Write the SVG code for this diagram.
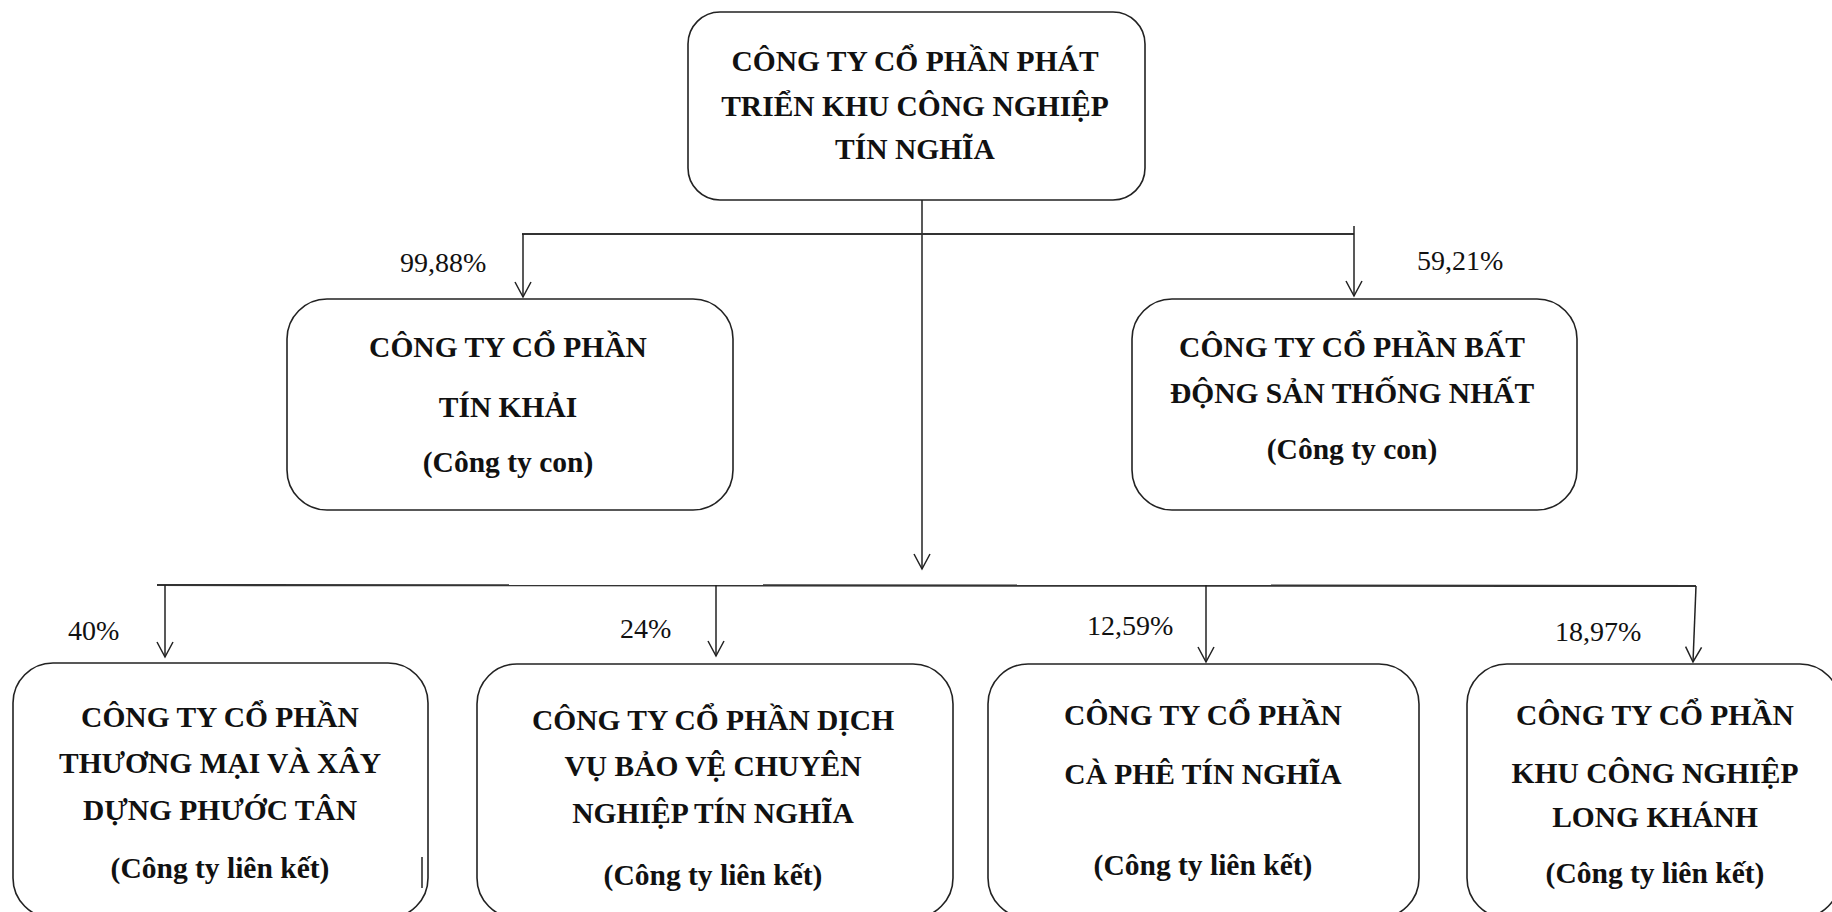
<svg xmlns="http://www.w3.org/2000/svg" width="1832" height="912" viewBox="0 0 1832 912">
<style>
.box{fill:#fff;stroke:#222;stroke-width:1.6}
.t{font-family:"Liberation Serif","Times New Roman",serif;font-weight:bold;font-size:29.5px;fill:#111;text-anchor:middle}
.p{font-family:"Liberation Serif","Times New Roman",serif;font-size:28px;fill:#111}
.h{stroke:#333;stroke-width:2.2;fill:none}
.v{stroke:#222;stroke-width:1.5;fill:none}
</style>
<defs>
<marker id="arr" markerUnits="userSpaceOnUse" viewBox="-16 -9 18 18" refX="0" refY="0" markerWidth="18" markerHeight="18" orient="auto">
<path d="M-15,-8 L0,0 L-15,8" fill="none" stroke="#222" stroke-width="1.5"/>
</marker>
</defs>
<rect width="1832" height="912" fill="#fff"/>
<g id="connectors">
<line class="v" x1="922" y1="200" x2="922" y2="569" marker-end="url(#arr)"/>
<line class="h" x1="522" y1="234" x2="1354" y2="234"/>
<line class="v" x1="523" y1="234" x2="523" y2="297" marker-end="url(#arr)"/>
<line class="v" x1="1354" y1="226" x2="1354" y2="296" marker-end="url(#arr)"/>
<line class="h" x1="157" y1="585" x2="1696" y2="586"/>
<line class="v" x1="165" y1="585" x2="165" y2="657" marker-end="url(#arr)"/>
<line class="v" x1="716" y1="585" x2="716" y2="656" marker-end="url(#arr)"/>
<line class="v" x1="1206" y1="585" x2="1206" y2="662" marker-end="url(#arr)"/>
<line class="v" x1="1696" y1="586" x2="1693" y2="662" marker-end="url(#arr)"/>
</g>
<g id="lbl-99">
<text class="p" x="400" y="272">99,88%</text>
</g>
<g id="lbl-59">
<text class="p" x="1417" y="270">59,21%</text>
</g>
<g id="lbl-40">
<text class="p" x="68" y="640">40%</text>
</g>
<g id="lbl-24">
<text class="p" x="620" y="638">24%</text>
</g>
<g id="lbl-12">
<text class="p" x="1087" y="635">12,59%</text>
</g>
<g id="lbl-18">
<text class="p" x="1555" y="641">18,97%</text>
</g>
<g id="node-tinnghia">
<rect class="box" x="688" y="12" width="457" height="188" rx="32"/>
<text class="t" x="915" y="71">CÔNG TY CỔ PHẦN PHÁT</text>
<text class="t" x="915" y="116">TRIỂN KHU CÔNG NGHIỆP</text>
<text class="t" x="915" y="159">TÍN NGHĨA</text>
</g>
<g id="node-tinkhai">
<rect class="box" x="287" y="299" width="446" height="211" rx="40"/>
<text class="t" x="508" y="357">CÔNG TY CỔ PHẦN</text>
<text class="t" x="508" y="417">TÍN KHẢI</text>
<text class="t" x="508" y="472">(Công ty con)</text>
</g>
<g id="node-thongnhat">
<rect class="box" x="1132" y="299" width="445" height="211" rx="40"/>
<text class="t" x="1352" y="357">CÔNG TY CỔ PHẦN BẤT</text>
<text class="t" x="1352" y="403">ĐỘNG SẢN THỐNG NHẤT</text>
<text class="t" x="1352" y="459">(Công ty con)</text>
</g>
<g id="node-phuoctan">
<rect class="box" x="13" y="663" width="415" height="255" rx="40"/>
<text class="t" x="220" y="727">CÔNG TY CỔ PHẦN</text>
<text class="t" x="220" y="773">THƯƠNG MẠI VÀ XÂY</text>
<text class="t" x="220" y="820">DỰNG PHƯỚC TÂN</text>
<text class="t" x="220" y="878">(Công ty liên kết)</text>
<line x1="422" y1="857" x2="422" y2="888" stroke="#222" stroke-width="1.5"/>
</g>
<g id="node-baove">
<rect class="box" x="477" y="664" width="476" height="254" rx="40"/>
<text class="t" x="713" y="730">CÔNG TY CỔ PHẦN DỊCH</text>
<text class="t" x="713" y="776">VỤ BẢO VỆ CHUYÊN</text>
<text class="t" x="713" y="823">NGHIỆP TÍN NGHĨA</text>
<text class="t" x="713" y="885">(Công ty liên kết)</text>
</g>
<g id="node-caphe">
<rect class="box" x="988" y="664" width="431" height="254" rx="40"/>
<text class="t" x="1203" y="725">CÔNG TY CỔ PHẦN</text>
<text class="t" x="1203" y="784">CÀ PHÊ TÍN NGHĨA</text>
<text class="t" x="1203" y="875">(Công ty liên kết)</text>
</g>
<g id="node-longkhanh">
<rect class="box" x="1467" y="664" width="373" height="254" rx="40"/>
<text class="t" x="1655" y="725">CÔNG TY CỔ PHẦN</text>
<text class="t" x="1655" y="783">KHU CÔNG NGHIỆP</text>
<text class="t" x="1655" y="827">LONG KHÁNH</text>
<text class="t" x="1655" y="883">(Công ty liên kết)</text>
</g>
</svg>
